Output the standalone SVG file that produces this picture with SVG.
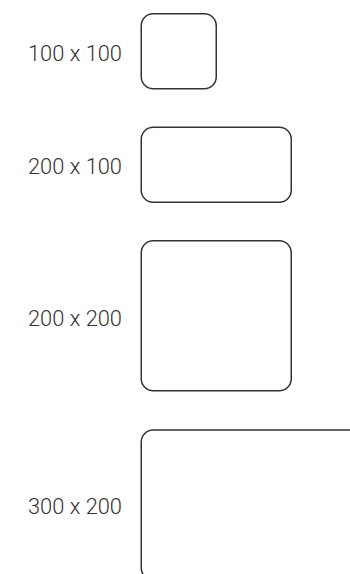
<svg xmlns="http://www.w3.org/2000/svg" width="350" height="574" viewBox="0 0 350 574">
<style>
.box{fill:#fff;stroke:#333;stroke-width:1.5}
.lbl{font-family:Roboto,"Liberation Sans",sans-serif;font-size:22.5px;font-weight:300;fill:#333;text-anchor:end}
</style>
<rect width="350" height="574" fill="#fff"/>
<g id="n1"><rect class="box" x="141.25" y="13.75" width="75" height="75" rx="12" ry="12"/><text class="lbl" x="122" y="61" textLength="94" lengthAdjust="spacingAndGlyphs">100 x 100</text></g>
<g id="n2"><rect class="box" x="141.25" y="127.25" width="150" height="75" rx="12" ry="12"/><text class="lbl" x="122" y="174" textLength="94" lengthAdjust="spacingAndGlyphs">200 x 100</text></g>
<g id="n3"><rect class="box" x="141.25" y="240.75" width="150" height="150" rx="12" ry="12"/><text class="lbl" x="122" y="326" textLength="94" lengthAdjust="spacingAndGlyphs">200 x 200</text></g>
<g id="n4"><rect class="box" x="141.25" y="430" width="225" height="150" rx="12" ry="12"/><text class="lbl" x="122" y="514" textLength="94" lengthAdjust="spacingAndGlyphs">300 x 200</text></g>
<g id="connectors"/>
</svg>
